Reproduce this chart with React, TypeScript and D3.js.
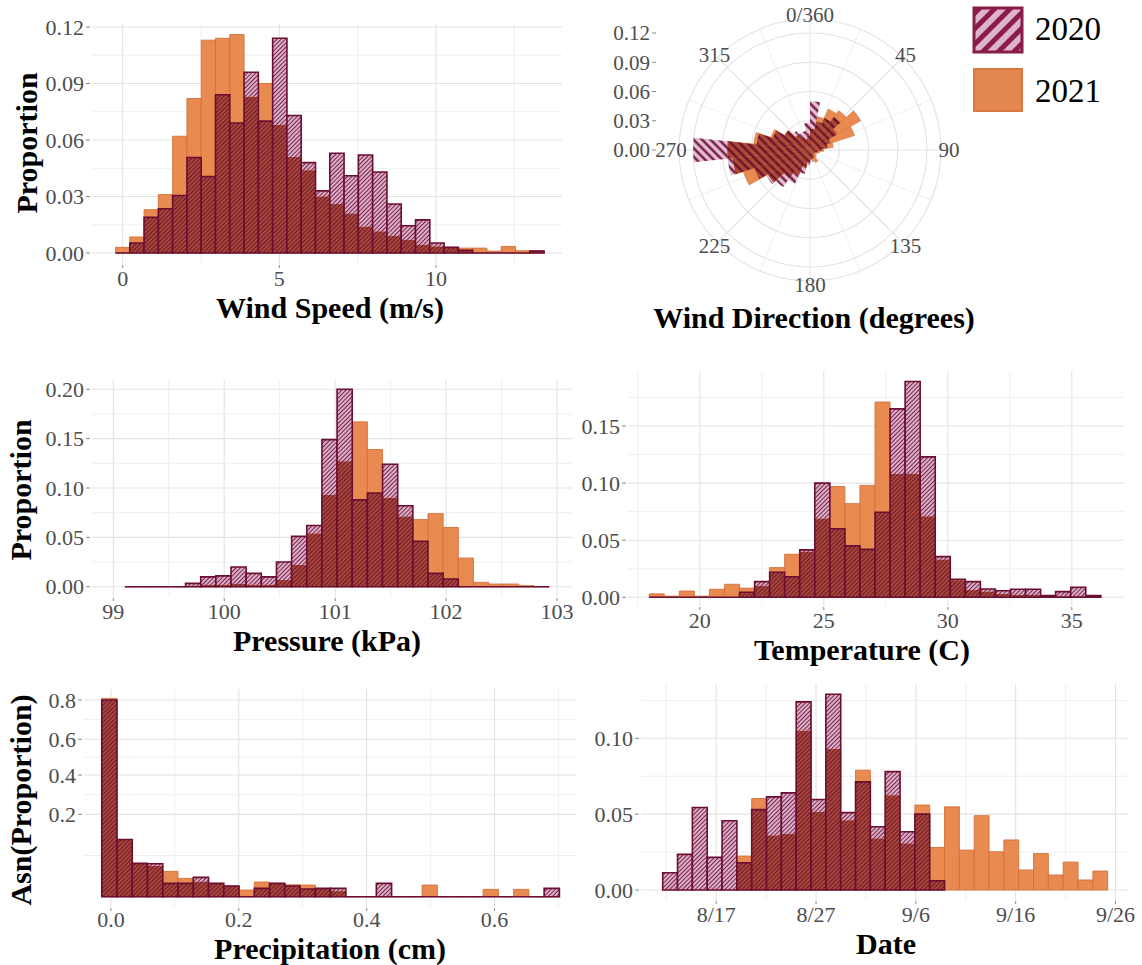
import React from 'react';
import * as d3 from 'd3';

// ---------- data: proportion per histogram bin ----------

// wind speed (m/s), 30 bins
const windSpeedBinStart = -0.23;
const windSpeedBinWidth = 0.456;
const windSpeed2020 = [0, 0.0053, 0.019, 0.0235, 0.0305, 0.0507, 0.0406, 0.084, 0.069, 0.096, 0.07, 0.114, 0.073, 0.048, 0.033, 0.053, 0.041, 0.052, 0.043, 0.026, 0.0145, 0.0176, 0.0053, 0.003, 0.0014, 0, 0, 0, 0, 0.001];
const windSpeed2021 = [0.003, 0.0085, 0.023, 0.031, 0.062, 0.082, 0.113, 0.114, 0.116, 0.083, 0.09, 0.068, 0.051, 0.044, 0.03, 0.026, 0.021, 0.014, 0.0115, 0.009, 0.007, 0.0044, 0.0035, 0.003, 0.0026, 0.0026, 0.001, 0.0035, 0.0012, 0.0012];
const windSpeedTicks = [0, 5, 10];
const windSpeedMinor = [2.5, 7.5, 12.5];
const windSpeedYTicks = [0, 0.03, 0.06, 0.09, 0.12];

// wind direction (degrees), 30 bins of 12 degrees
const dirBinStart = 0;
const dirBinWidth = 12;
const dir2020 = [0.05, 0.03, 0.036, 0.042, 0.032, 0.022, 0.018, 0.012, 0.008, 0.006, 0.005, 0.005, 0.007, 0.009, 0.012, 0.016, 0.025, 0.038, 0.047, 0.052, 0.06, 0.085, 0.12, 0.055, 0.04, 0.03, 0.024, 0.02, 0.02, 0.028];
const dir2021 = [0.022, 0.035, 0.046, 0.05, 0.06, 0.048, 0.024, 0.014, 0.01, 0.008, 0.007, 0.009, 0.014, 0.012, 0.01, 0.012, 0.018, 0.028, 0.036, 0.05, 0.072, 0.08, 0.085, 0.058, 0.042, 0.03, 0.02, 0.015, 0.012, 0.015];
const dirLabels = ['0/360', '45', '90', '135', '180', '225', '270', '315'];
const dirMajor = [0, 45, 90, 135, 180, 225, 270, 315];
const dirMinor = [22.5, 67.5, 112.5, 157.5, 202.5, 247.5, 292.5, 337.5];
const dirRTicks = [0, 0.03, 0.06, 0.09, 0.12];

// pressure (kPa), 28 bins
const pressureBinStart = 99.105;
const pressureBinWidth = 0.1366;
const pressure2020 = [0, 0, 0, 0, 0.0034, 0.01, 0.011, 0.02, 0.0135, 0.01, 0.025, 0.051, 0.062, 0.149, 0.2, 0.088, 0.095, 0.124, 0.082, 0.046, 0.0135, 0.0078, 0, 0, 0, 0, 0, 0];
const pressure2021 = [0, 0, 0, 0, 0.001, 0.002, 0.002, 0.003, 0.002, 0.002, 0.0068, 0.022, 0.054, 0.093, 0.127, 0.167, 0.139, 0.09, 0.071, 0.068, 0.074, 0.06, 0.029, 0.0044, 0.0027, 0.0027, 0.001, 0];
const pressureTicks = [99, 100, 101, 102, 103];
const pressureMinor = [99.5, 100.5, 101.5, 102.5];
const pressureYTicks = [0, 0.05, 0.1, 0.15, 0.2];

// temperature (C), 30 bins
const tempBinStart = 17.96;
const tempBinWidth = 0.607;
const temp2020 = [0, 0, 0, 0, 0, 0, 0.0044, 0.0137, 0.022, 0.018, 0.0415, 0.1, 0.06, 0.045, 0.042, 0.0745, 0.165, 0.189, 0.123, 0.0356, 0.0158, 0.0137, 0.0073, 0.0058, 0.007, 0.007, 0.0015, 0.005, 0.0088, 0.0015];
const temp2021 = [0.003, 0.001, 0.0055, 0.001, 0.007, 0.0114, 0.008, 0.01, 0.026, 0.0377, 0.04, 0.069, 0.097, 0.082, 0.098, 0.171, 0.108, 0.108, 0.071, 0.033, 0.015, 0.0064, 0.005, 0.003, 0.002, 0.002, 0.0005, 0.001, 0.001, 0];
const tempTicks = [20, 25, 30, 35];
const tempMinor = [17.5, 22.5, 27.5, 32.5];
const tempYTicks = [0, 0.05, 0.1, 0.15];

// precipitation (cm), 30 bins, y on arcsine-sqrt scale
const precipBinStart = -0.0143;
const precipBinWidth = 0.02386;
const precip2020 = [0.8, 0.1, 0.0348, 0.034, 0.0056, 0.0056, 0.0118, 0.0056, 0.0036, 0, 0.0022, 0.0056, 0.0036, 0.0019, 0.0022, 0.0022, 0, 0, 0.0056, 0, 0, 0, 0, 0, 0, 0, 0, 0, 0, 0.0022];
const precip2021 = [0.807, 0.1, 0.034, 0.03, 0.0202, 0.0106, 0.0071, 0.0056, 0.0036, 0.0014, 0.0068, 0.0056, 0.0045, 0.0043, 0.002, 0.001, 0, 0, 0, 0, 0, 0.0043, 0, 0, 0, 0.0017, 0, 0.0017, 0, 0];
const precipTicks = [0, 0.2, 0.4, 0.6];
const precipMinor = [0.1, 0.3, 0.5, 0.7];
const precipYTicks = [0.2, 0.4, 0.6, 0.8];

// date, 30 bins of ~1.49 days
const dateBinStart = new Date(2021, 7, 11, 15, 22);
const dateBinDays = 1.486;
const date2020 = [0.0114, 0.0235, 0.0544, 0.0215, 0.0456, 0.018, 0.053, 0.0614, 0.064, 0.124, 0.0597, 0.129, 0.051, 0.0713, 0.0417, 0.078, 0.0384, 0.05, 0.0061, null, null, null, null, null, null, null, null, null, null, null];
const date2021 = [null, null, null, null, null, 0.0224, 0.0603, 0.036, 0.037, 0.105, 0.0515, 0.093, 0.046, 0.079, 0.034, 0.0625, 0.0307, 0.056, 0.028, 0.0548, 0.0263, 0.049, 0.0252, 0.033, 0.0132, 0.024, 0.0099, 0.0184, 0.0066, 0.0125];
const dateTicks = ['2021-08-17', '2021-08-27', '2021-09-06', '2021-09-16', '2021-09-26'];
const dateMinor = ['2021-08-12', '2021-08-22', '2021-09-01', '2021-09-11', '2021-09-21'];
const dateYTicks = [0, 0.05, 0.1];

const legendYears = ['2020', '2021'];

// ---------- styles ----------
const SERIF = '"Liberation Serif", "Times New Roman", serif';
const ORANGE = '#E98A50';
const ORANGE_LINE = '#D2703A';
const MAROON = '#6B0E31';
const GRID = '#E3E3E3';
const GRID_MINOR = '#EDEDED';
const TICK_TEXT = '#4D4D4D';

const parseDay = d3.timeParse('%Y-%m-%d');
const fmt2 = d3.format('.2f');
const fmt1 = d3.format('.1f');

function barPath(x0, x1, yTop, yBot) {
  return `M${x0},${yBot}V${yTop}H${x1}V${yBot}Z`;
}

function Histogram({ frame, x, y, edge, v2020, v2021, xTicks, xMinor, xFormat, yTicks, yMinor, yFormat, xTitle, xTitleX, yTitle, yTitleX, yTitleY, labelGap = 22, titleGap = 54 }) {
  const base = y(0);
  const bins = d3.range(Math.max(v2020.length, v2021.length));
  return (
    <g>
      {yMinor.map((v, i) => (
        <line key={'ym' + i} x1={frame.left} x2={frame.right} y1={v} y2={v} stroke={GRID_MINOR} strokeWidth={0.9} />
      ))}
      {xMinor.map((v, i) => (
        <line key={'xm' + i} x1={x(v)} x2={x(v)} y1={frame.top} y2={frame.bottom} stroke={GRID_MINOR} strokeWidth={0.9} />
      ))}
      {yTicks.map((v, i) => (
        <line key={'yg' + i} x1={frame.left} x2={frame.right} y1={y(v)} y2={y(v)} stroke={GRID} strokeWidth={1.1} />
      ))}
      {xTicks.map((v, i) => (
        <line key={'xg' + i} x1={x(v)} x2={x(v)} y1={frame.top} y2={frame.bottom} stroke={GRID} strokeWidth={1.1} />
      ))}

      {bins.map((k) =>
        v2021[k] == null ? null : (
          <path key={'o' + k} d={barPath(edge(k), edge(k + 1), y(v2021[k]), base)} fill={ORANGE} stroke={ORANGE_LINE} strokeWidth={0.9} />
        )
      )}
      {bins.map((k) => {
        const a = v2020[k];
        if (a == null) return null;
        const b = v2021[k] ?? 0;
        const low = Math.min(a, b);
        return (
          <g key={'h' + k}>
            {low > 0 && <path d={barPath(edge(k), edge(k + 1), y(low), base)} fill="url(#hatchDark)" />}
            {a > b && <path d={barPath(edge(k), edge(k + 1), y(a), y(b))} fill="url(#hatchLight)" />}
            <path d={barPath(edge(k), edge(k + 1), y(a), base)} fill="none" stroke={MAROON} strokeWidth={1.6} />
          </g>
        );
      })}

      {yTicks.map((v, i) => (
        <g key={'yl' + i}>
          <line x1={frame.left - 6} x2={frame.left - 2} y1={y(v)} y2={y(v)} stroke="#888" />
          <text x={frame.left - 8} y={y(v)} dy="0.35em" textAnchor="end" fontSize={22} fill={TICK_TEXT}>
            {yFormat(v)}
          </text>
        </g>
      ))}
      {xTicks.map((v, i) => (
        <g key={'xl' + i}>
          <line x1={x(v)} x2={x(v)} y1={frame.bottom + 1} y2={frame.bottom + 4} stroke="#888" />
          <text x={x(v)} y={frame.bottom + labelGap} textAnchor="middle" fontSize={22} fill={TICK_TEXT}>
            {xFormat(v)}
          </text>
        </g>
      ))}
      <text x={xTitleX} y={frame.bottom + titleGap} textAnchor="middle" fontSize={30} fontWeight="bold" fill="#000">
        {xTitle}
      </text>
      {yTitle && (
        <text transform={`translate(${yTitleX + 7},${yTitleY}) rotate(-90)`} textAnchor="middle" fontSize={30} fontWeight="bold" fill="#000">
          {yTitle}
        </text>
      )}
    </g>
  );
}

function WindRose() {
  const cx = 810;
  const cy = 150;
  const rOuter = 131;
  const labelR = 135;
  const r = d3.scaleLinear().domain([0, 0.12]).range([0, 117]);
  const theta = d3.scaleLinear().domain([0, 360]).range([0, 2 * Math.PI]);
  const arc = d3.arc();
  const bins = d3.range(dir2020.length);
  const wedge = (k, r0, r1) =>
    arc({
      innerRadius: r0,
      outerRadius: r1,
      startAngle: theta(dirBinStart + k * dirBinWidth),
      endAngle: theta(dirBinStart + (k + 1) * dirBinWidth),
    });
  const spoke = (deg, i, color, w) => (
    <line key={color + i} x1={0} y1={0} x2={rOuter * Math.sin(theta(deg))} y2={-rOuter * Math.cos(theta(deg))} stroke={color} strokeWidth={w} />
  );
  return (
    <g>
      <g transform={`translate(${cx},${cy})`}>
        {dirMinor.map((d, i) => spoke(d, i, GRID_MINOR, 0.9))}
        {dirMajor.map((d, i) => spoke(d, i, GRID, 1.1))}
        {dirRTicks.filter((v) => v > 0).map((v, i) => (
          <circle key={'c' + i} r={r(v)} fill="none" stroke={GRID} strokeWidth={1.1} />
        ))}
        <circle r={rOuter} fill="none" stroke={GRID} strokeWidth={1.1} />

        {bins.map((k) => (
          <path key={'o' + k} d={wedge(k, 0, r(dir2021[k]))} fill={ORANGE} stroke={ORANGE_LINE} strokeWidth={0.5} />
        ))}
        {bins.map((k) => {
          const a = dir2020[k];
          const b = dir2021[k];
          return (
            <g key={'h' + k}>
              <path d={wedge(k, 0, r(Math.min(a, b)))} fill="url(#hatchDarkPolar)" />
              {a > b && <path d={wedge(k, r(b), r(a))} fill="url(#hatchLightPolar)" />}
            </g>
          );
        })}

        {dirLabels.map((lab, i) => (
          <text
            key={'t' + i}
            x={(labelR + (i % 4 === 2 ? 4 : 0)) * Math.sin(theta(dirMajor[i]))}
            y={-labelR * Math.cos(theta(dirMajor[i]))}
            dy="0.35em"
            textAnchor="middle"
            fontSize={21}
            fill={TICK_TEXT}
          >
            {lab}
          </text>
        ))}
      </g>
      {dirRTicks.map((v, i) => (
        <g key={'r' + i}>
          <line x1={652} x2={656} y1={cy - r(v)} y2={cy - r(v)} stroke="#888" />
          <text x={650} y={cy - r(v)} dy="0.35em" textAnchor="end" fontSize={21} fill={TICK_TEXT}>
            {fmt2(v)}
          </text>
        </g>
      ))}
      <text x={814} y={328} textAnchor="middle" fontSize={30} fontWeight="bold" fill="#000">
        Wind Direction (degrees)
      </text>
    </g>
  );
}

function Legend() {
  return (
    <g>
      <rect x={974} y={8} width={48} height={44} fill="url(#hatchLegend)" stroke="#8A1D48" strokeWidth={3} />
      <text x={1035} y={40} fontSize={33} fill="#000">
        {legendYears[0]}
      </text>
      <rect x={974} y={69} width={48} height={42} fill="#E2874F" stroke="#D9793F" strokeWidth={2} />
      <text x={1035} y={102} fontSize={33} fill="#000">
        {legendYears[1]}
      </text>
    </g>
  );
}

function Patterns() {
  const hatch = (id, size, bg, stripe, w, angle) => (
    <pattern id={id} patternUnits="userSpaceOnUse" width={size} height={size} patternTransform={`rotate(${angle})`}>
      <rect width={size} height={size} fill={bg} />
      <line x1={size / 2} y1={0} x2={size / 2} y2={size} stroke={stripe} strokeWidth={w} />
    </pattern>
  );
  return (
    <defs>
      {hatch('hatchLight', 3, '#E8CADA', '#7E2150', 1.3, 45)}
      {hatch('hatchDark', 3, '#B44C3B', '#6C1A2C', 1.3, 45)}
      {hatch('hatchLightPolar', 6, '#E6C6D6', '#7A1E48', 2.6, -45)}
      {hatch('hatchDarkPolar', 6, '#B24A38', '#6A162A', 2.6, -45)}
      {hatch('hatchLegend', 11, '#DDB4CA', '#8A1D48', 5, 45)}
    </defs>
  );
}

export default function App() {
  // wind speed panel
  const wsX = d3.scaleLinear().domain([0, 10]).range([122.7, 436]);
  const wsY = d3.scaleLinear().domain([0, 0.12]).range([253, 27]);
  // pressure panel
  const prX = d3.scaleLinear().domain([99, 103]).range([113.3, 557]);
  const prY = d3.scaleLinear().domain([0, 0.2]).range([586.7, 389.3]);
  // temperature panel
  const tX = d3.scaleLinear().domain([20, 35]).range([699.8, 1071.8]);
  const tY = d3.scaleLinear().domain([0, 0.15]).range([597.3, 426]);
  // precipitation panel (arcsine square-root y)
  const pcX = d3.scaleLinear().domain([0, 0.6]).range([110.9, 494.5]);
  const asn = (v) => Math.asin(Math.sqrt(v));
  const pcT = d3.scaleLinear().domain([0, asn(0.8)]).range([896.7, 700]);
  const pcY = (v) => pcT(asn(v));
  const pcMajorT = [0, ...precipYTicks].map(asn);
  const pcMinorY = d3.range(pcMajorT.length - 1).map((i) => pcT((pcMajorT[i] + pcMajorT[i + 1]) / 2));
  // date panel
  const dX = d3.scaleTime().domain([parseDay('2021-08-17'), parseDay('2021-09-26')]).range([716.2, 1115.5]);
  const dY = d3.scaleLinear().domain([0, 0.1]).range([890, 738.3]);
  const dayMs = 864e5;
  const fmtDay = d3.timeFormat('%-m/%-d');

  const midY = (ticks, y) => d3.range(ticks.length).map((i) => y(ticks[i] + (ticks[1] - ticks[0]) / 2));

  return (
    <svg width={1142} height={965} style={{ position: 'absolute', left: 0, top: 0, fontFamily: SERIF }}>
      <Patterns />
      <rect width={1142} height={965} fill="#fff" />

      <Histogram
        frame={{ left: 92, right: 562, top: 24, bottom: 264 }}
        x={wsX}
        y={wsY}
        edge={(k) => wsX(windSpeedBinStart + k * windSpeedBinWidth)}
        v2020={windSpeed2020}
        v2021={windSpeed2021}
        xTicks={windSpeedTicks}
        xMinor={windSpeedMinor}
        xFormat={(v) => String(v)}
        yTicks={windSpeedYTicks}
        yMinor={midY(windSpeedYTicks.slice(0, -1), wsY)}
        yFormat={fmt2}
        xTitle="Wind Speed (m/s)"
        xTitleX={330}
        yTitle="Proportion"
        yTitleX={29.5}
        yTitleY={143}
      />

      <WindRose />
      <Legend />

      <Histogram
        frame={{ left: 92, right: 572, top: 380, bottom: 597 }}
        x={prX}
        y={prY}
        edge={(k) => prX(pressureBinStart + k * pressureBinWidth)}
        v2020={pressure2020}
        v2021={pressure2021}
        xTicks={pressureTicks}
        xMinor={pressureMinor}
        xFormat={(v) => String(v)}
        yTicks={pressureYTicks}
        yMinor={midY(pressureYTicks.slice(0, -1), prY)}
        yFormat={fmt2}
        xTitle="Pressure (kPa)"
        xTitleX={327}
        yTitle="Proportion"
        yTitleX={23.5}
        yTitleY={490}
      />

      <Histogram
        frame={{ left: 628, right: 1124, top: 371, bottom: 606 }}
        x={tX}
        y={tY}
        edge={(k) => tX(tempBinStart + k * tempBinWidth)}
        v2020={temp2020}
        v2021={temp2021}
        xTicks={tempTicks}
        xMinor={tempMinor}
        xFormat={(v) => String(v)}
        yTicks={tempYTicks}
        yMinor={midY(tempYTicks, tY)}
        yFormat={fmt2}
        xTitle="Temperature (C)"
        xTitleX={862}
      />

      <Histogram
        frame={{ left: 84, right: 576, top: 689, bottom: 907 }}
        x={pcX}
        y={pcY}
        edge={(k) => pcX(precipBinStart + k * precipBinWidth)}
        v2020={precip2020}
        v2021={precip2021}
        xTicks={precipTicks}
        xMinor={precipMinor}
        xFormat={fmt1}
        yTicks={precipYTicks}
        yMinor={pcMinorY}
        yFormat={fmt1}
        xTitle="Precipitation (cm)"
        xTitleX={330}
        yTitle="Asn(Proportion)"
        yTitleX={23.5}
        yTitleY={800}
        labelGap={20}
        titleGap={52}
      />

      <Histogram
        frame={{ left: 641, right: 1128, top: 684, bottom: 900 }}
        x={(d) => dX(typeof d === 'string' ? parseDay(d) : d)}
        y={dY}
        edge={(k) => dX(new Date(dateBinStart.getTime() + k * dateBinDays * dayMs))}
        v2020={date2020}
        v2021={date2021}
        xTicks={dateTicks}
        xMinor={dateMinor}
        xFormat={(d) => fmtDay(parseDay(d))}
        yTicks={dateYTicks}
        yMinor={midY(dateYTicks, dY)}
        yFormat={fmt2}
        xTitle="Date"
        xTitleX={886}
      />
    </svg>
  );
}
